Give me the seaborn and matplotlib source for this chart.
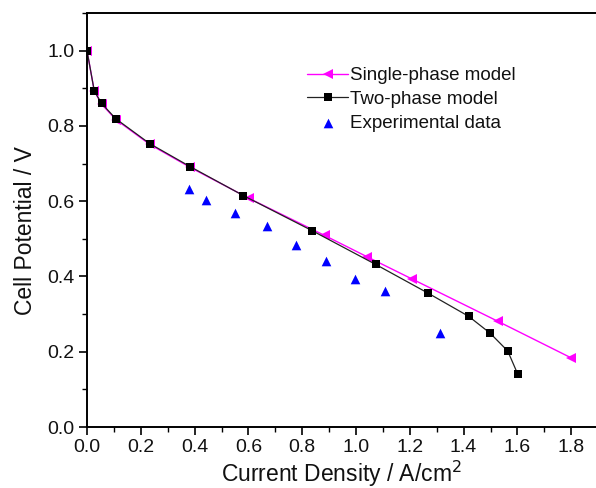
import matplotlib
matplotlib.use("Agg")
import matplotlib.pyplot as plt
import seaborn as sns
import numpy as np
import pandas as pd
from matplotlib.ticker import MultipleLocator

# Data
single_x = [0.0, 0.027, 0.054, 0.107, 0.233, 0.383, 0.601, 0.883, 1.042, 1.209, 1.527, 1.799]
single_y = [1.0, 0.893, 0.858, 0.817, 0.751, 0.690, 0.608, 0.509, 0.452, 0.393, 0.281, 0.184]

two_x = [0.0, 0.027, 0.054, 0.107, 0.233, 0.383, 0.581, 0.836, 1.073, 1.267, 1.419, 1.499, 1.564, 1.601]
two_y = [1.0, 0.893, 0.860, 0.819, 0.753, 0.692, 0.615, 0.522, 0.432, 0.356, 0.294, 0.249, 0.202, 0.141]

exp_x = [0.381, 0.442, 0.549, 0.669, 0.777, 0.888, 0.997, 1.106, 1.314]
exp_y = [0.632, 0.602, 0.568, 0.533, 0.483, 0.441, 0.393, 0.362, 0.250]

x_ticks = [0.0, 0.2, 0.4, 0.6, 0.8, 1.0, 1.2, 1.4, 1.6, 1.8]
y_ticks = [0.0, 0.2, 0.4, 0.6, 0.8, 1.0]

sns.set_theme(style="ticks")
plt.rcParams['font.family'] = ['Liberation Sans', 'DejaVu Sans']

fig = plt.figure(figsize=(5.96, 4.88), dpi=100)
ax = fig.add_axes([87/596, 1 - 427/488, 1 - 87/596, (427 - 13)/488])

df1 = pd.DataFrame({"x": single_x, "y": single_y})
df2 = pd.DataFrame({"x": two_x, "y": two_y})
dfe = pd.DataFrame({"x": exp_x, "y": exp_y})

sns.lineplot(data=df1, x="x", y="y", ax=ax, color="#FF00FF", lw=1.0,
             marker="<", markersize=6.5, markeredgewidth=0, markerfacecolor="#FF00FF",
             label="Single-phase model", sort=False, estimator=None)
sns.lineplot(data=df2, x="x", y="y", ax=ax, color="#222222", lw=0.9,
             marker="s", markersize=5.2, markeredgewidth=0, markerfacecolor="black",
             label="Two-phase model", sort=False, estimator=None)
sns.scatterplot(data=dfe, x="x", y="y", ax=ax, color="#0000FF", marker="^",
                s=48, linewidth=0, label="Experimental data", zorder=5)

ax.set_xlim(0, (596 - 87) / 269.0)
ax.set_ylim(0, 1.1)
ax.set_xticks(x_ticks)
ax.set_yticks(y_ticks)
ax.set_xticklabels([f"{v:.1f}" for v in x_ticks])
ax.set_yticklabels([f"{v:.1f}" for v in y_ticks])
ax.xaxis.set_minor_locator(MultipleLocator(0.1))
ax.yaxis.set_minor_locator(MultipleLocator(0.1))
ax.tick_params(which="major", direction="out", length=6, width=1.2, color="black",
               labelsize=14, labelcolor="#111111", pad=3)
ax.tick_params(which="minor", direction="out", length=3.5, width=1.0, color="black")
ax.tick_params(top=False, right=False, which="both")

for s in ["left", "bottom", "top"]:
    ax.spines[s].set_visible(True)
    ax.spines[s].set_linewidth(1.4)
    ax.spines[s].set_color("black")
ax.spines["right"].set_visible(False)

ax.set_xlabel("Current Density / A/cm$^2$", fontsize=16.5, color="#111111", labelpad=2)
ax.set_ylabel("Cell Potential / V", fontsize=16.5, color="#111111", labelpad=6)
ax.yaxis.set_label_coords(-0.098, 0.475)

leg = ax.legend(loc="upper left", bbox_to_anchor=(307/596, 1 - 67/488),
                bbox_transform=fig.transFigure, frameon=False, fontsize=13.5,
                handlelength=2.2, handletextpad=0.1, labelspacing=0.35,
                borderpad=0, borderaxespad=0)
for t in leg.get_texts():
    t.set_color("#111111")

fig.savefig("out.png", dpi=100)
